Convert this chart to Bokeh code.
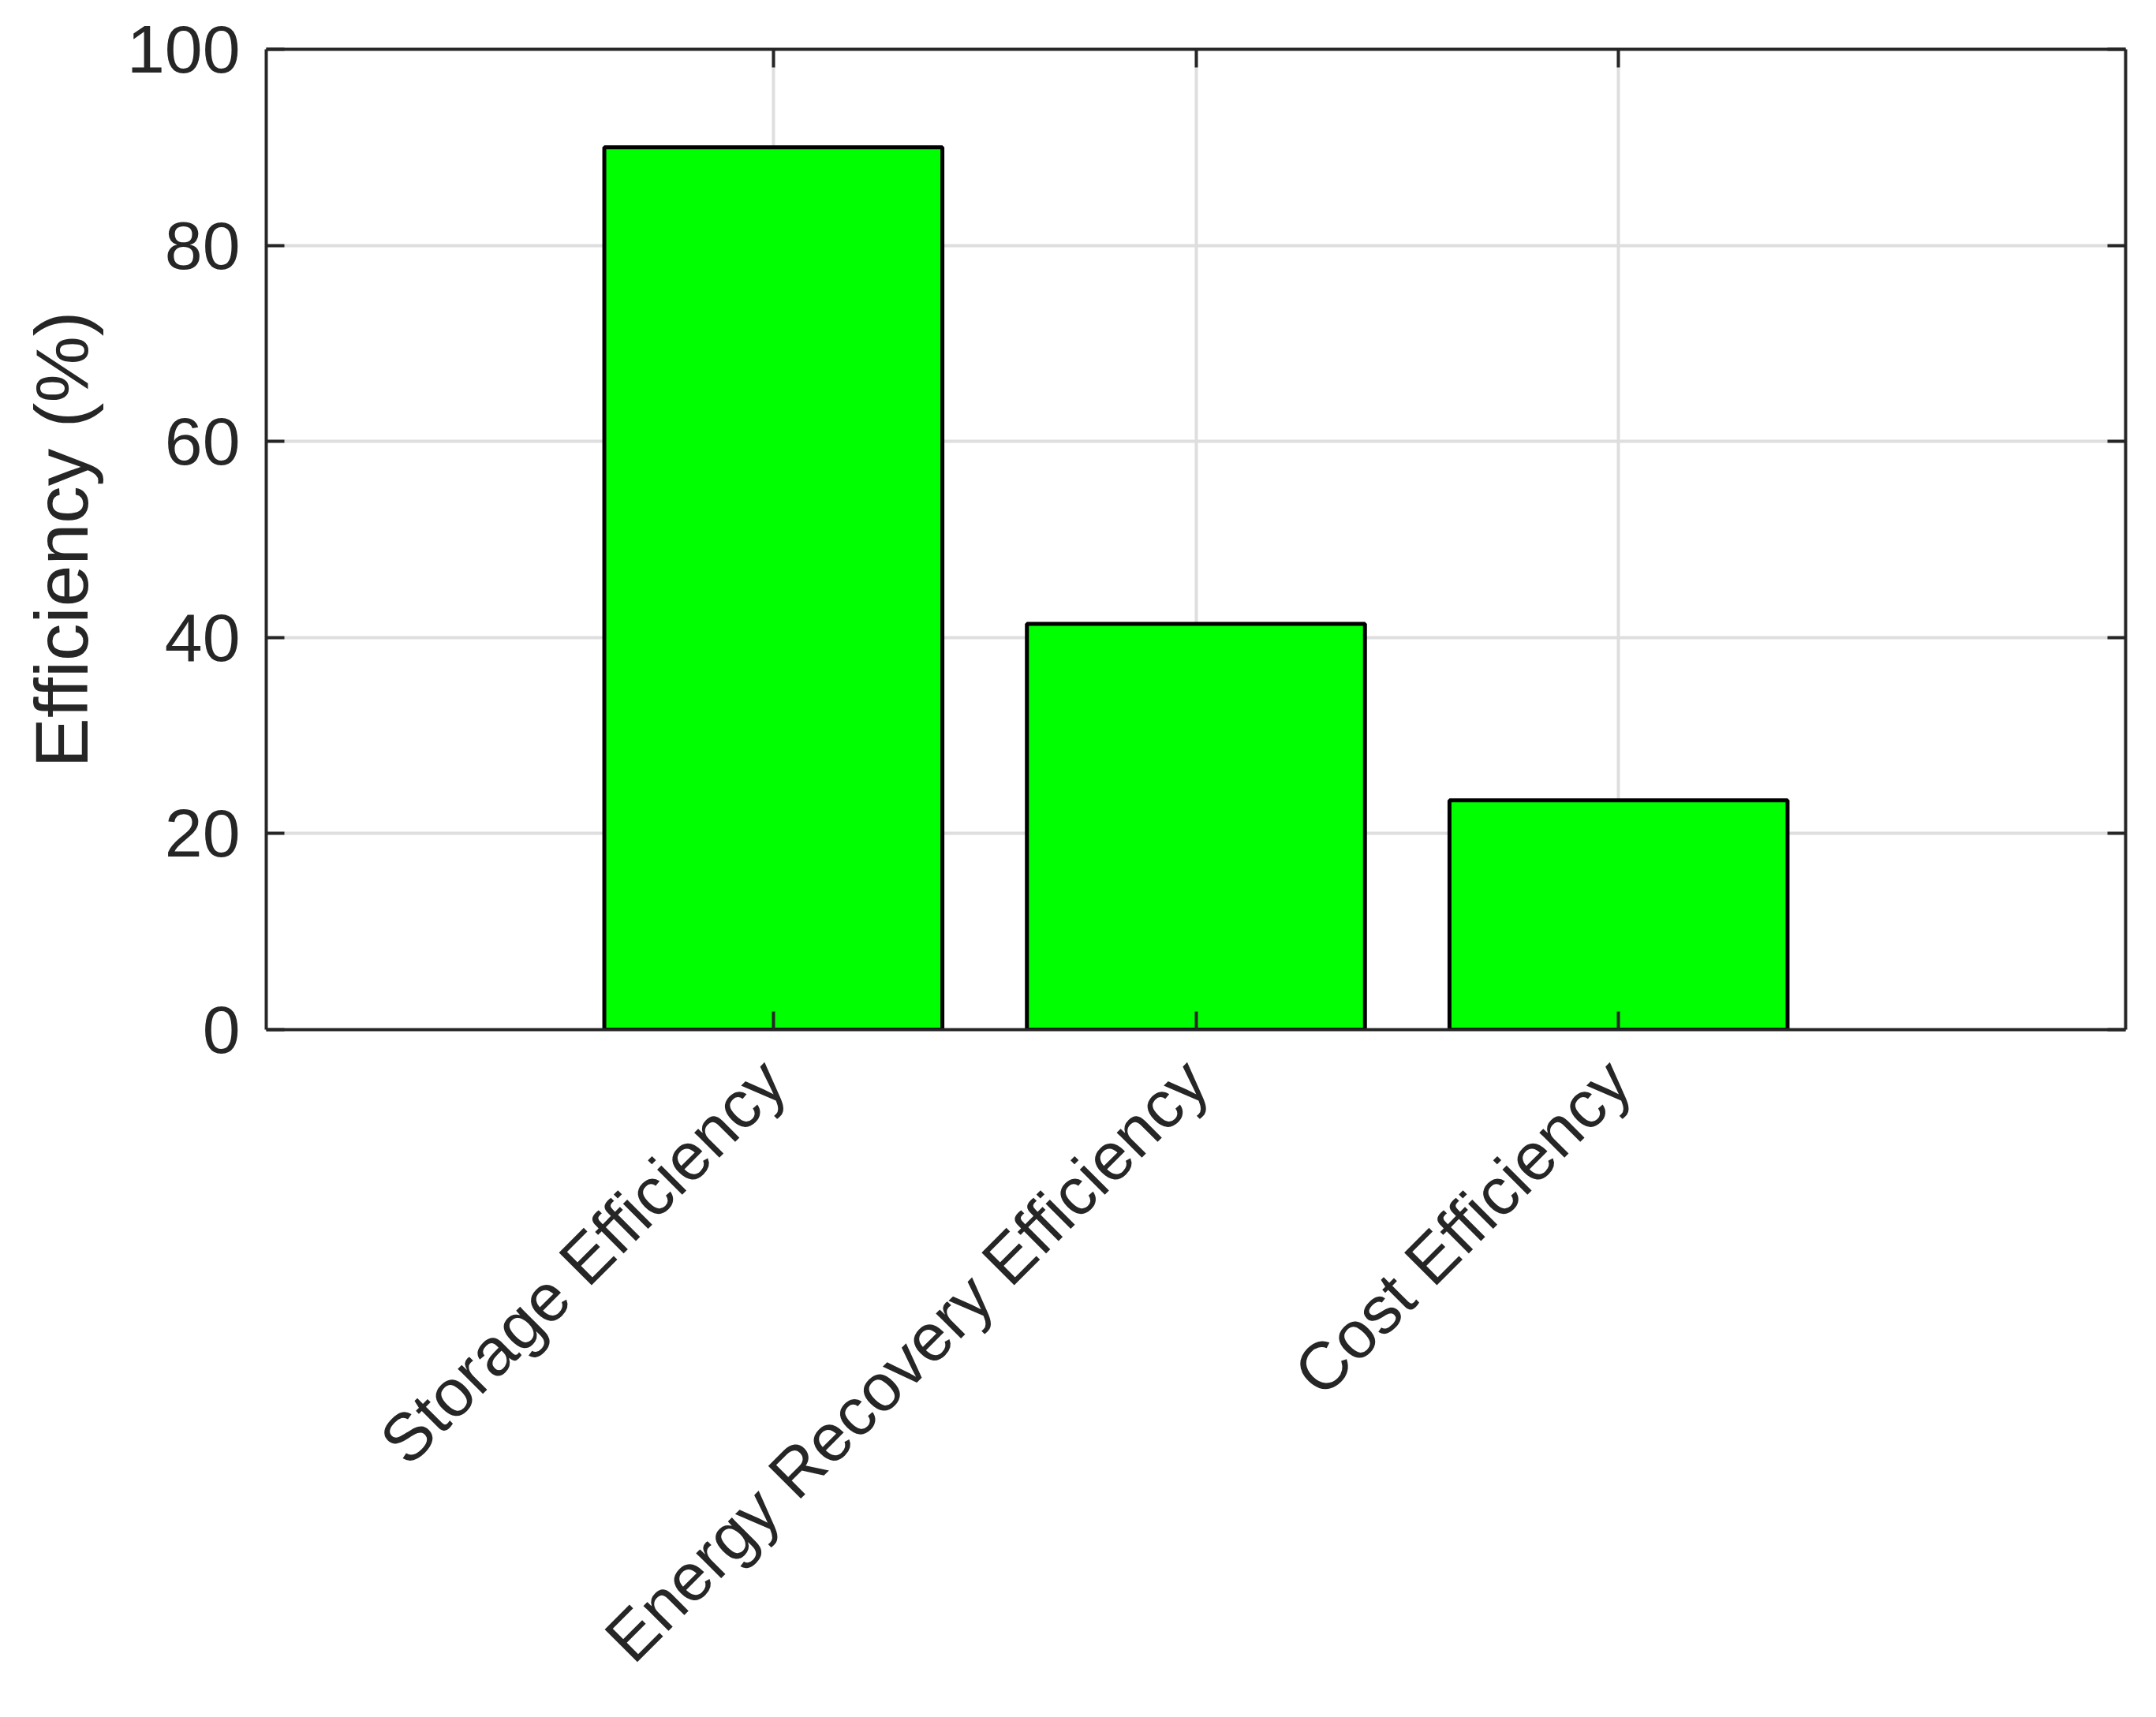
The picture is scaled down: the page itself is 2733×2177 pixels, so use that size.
import math
from bokeh.plotting import figure
from bokeh.models import (Range1d, LinearAxis, FixedTicker, ColumnDataSource,
                          Grid, CustomLabelingPolicy)
from bokeh.embed import file_html
from bokeh.resources import INLINE

# data
categories = ["Storage Efficiency", "Energy Recovery Efficiency", "Cost Efficiency"]
efficiency = [90.0, 41.4, 23.4]
positions = list(range(1, len(categories) + 1))
y_ticks = [0, 20, 40, 60, 80, 100]

INK = "#262626"
FONT = "Liberation Sans"

src = ColumnDataSource(data=dict(x=positions, y=efficiency, name=categories))

p = figure(width=2717, height=2161, output_backend="svg", toolbar_location=None,
           x_range=Range1d(-0.2, len(categories) + 1.2),
           y_range=Range1d(0, 100),
           x_axis_location=None, y_axis_location=None,
           min_border_left=337, min_border_right=23,
           min_border_top=62, min_border_bottom=854)
p.outline_line_color = None
p.background_fill_color = "white"

p.vbar(x="x", top="y", width=0.8, bottom=0, source=src,
       fill_color="#00ff00", line_color="black", line_width=5)


def make_axis(ticks, labels=True):
    ax = LinearAxis(ticker=FixedTicker(ticks=ticks))
    ax.axis_line_color = INK
    ax.axis_line_width = 4
    ax.major_tick_line_color = INK
    ax.major_tick_line_width = 4
    ax.major_tick_in = 23
    ax.major_tick_out = 0
    ax.minor_tick_line_color = None
    ax.major_label_text_color = INK
    ax.major_label_text_font = FONT
    ax.major_label_text_font_size = "86px"
    if not labels:
        # ticks only, no labels drawn
        ax.major_label_policy = CustomLabelingPolicy(code="return []")
        ax.major_label_text_font_size = "10px"
        ax.major_label_standoff = 0
    return ax


# left axis
left = make_axis(y_ticks)
left.major_label_standoff = 33
left.axis_label = "Efficiency (%)"
left.axis_label_text_font = FONT
left.axis_label_text_font_size = "95px"
left.axis_label_text_font_style = "normal"
left.axis_label_text_color = INK
left.axis_label_standoff = 27
p.add_layout(left, "left")

# bottom axis with rotated category names
bottom = make_axis(positions)
bottom.major_label_overrides = {i: c for i, c in zip(positions, categories)}
bottom.major_label_orientation = math.pi / 4
bottom.major_label_text_font_size = "85px"
bottom.major_label_standoff = 52
p.add_layout(bottom, "below")

# top and right: ticks only
p.add_layout(make_axis(positions, labels=False), "above")
p.add_layout(make_axis(y_ticks, labels=False), "right")

p.xgrid.visible = False
p.ygrid.visible = False
p.add_layout(Grid(dimension=0, ticker=FixedTicker(ticks=positions),
                  grid_line_color="#dedede", grid_line_width=4))
p.add_layout(Grid(dimension=1, ticker=FixedTicker(ticks=y_ticks[1:-1]),
                  grid_line_color="#dedede", grid_line_width=4))

open("out.html", "w").write(file_html(p, INLINE))
